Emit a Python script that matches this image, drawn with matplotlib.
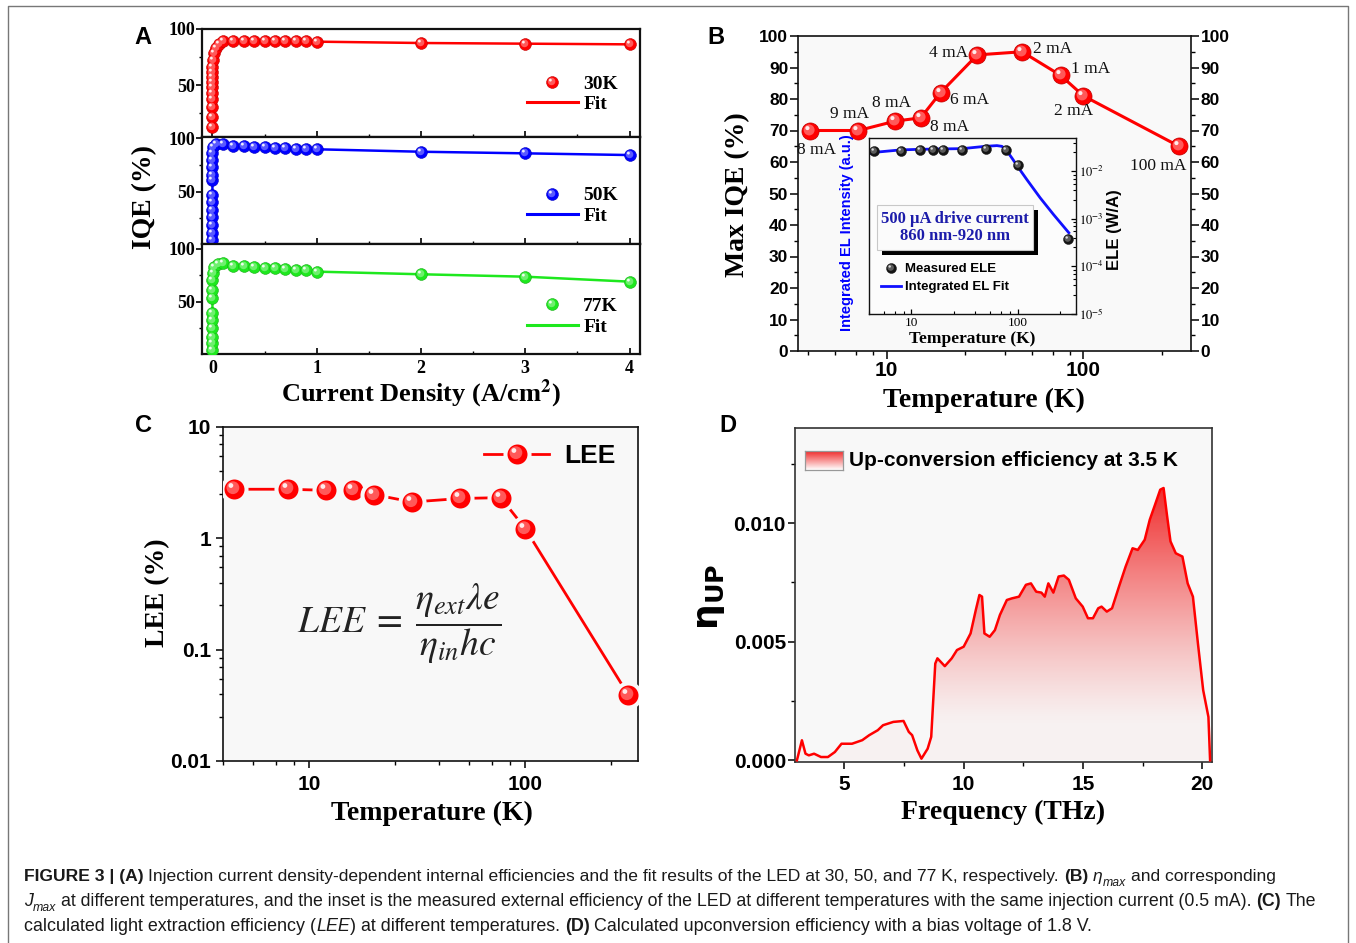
import numpy as np
import matplotlib
matplotlib.use('Agg')
import matplotlib.pyplot as plt
import matplotlib.colors as mcolors
import matplotlib.transforms as mtransforms
from matplotlib.path import Path
from matplotlib.markers import MarkerStyle
from matplotlib.lines import Line2D
from matplotlib.patches import Rectangle
from matplotlib.legend_handler import HandlerTuple
from matplotlib.ticker import FixedLocator, LogLocator, NullFormatter, MultipleLocator

# ---------------- data ----------------
# Panel A : IQE vs current density
a30_j = [0, 0, 0, 0, 0, 0, 0, 0, 0, 0, 0.005, 0.015, 0.03, 0.06, 0.1, 0.2, 0.3, 0.4, 0.5, 0.6, 0.7, 0.8, 0.9, 1.0, 2, 3, 4]
a30_iqe = [12.8, 21.7, 30.0, 37.2, 42.6, 48.5, 53.0, 57.4, 61.9, 66.3, 72.3, 78.3, 82.8, 86.6, 88.9, 89.3, 89.4, 89.4,
           89.3, 89.2, 89.1, 89.0, 88.9, 88.7, 87.5, 86.9, 86.3]
a50_j = [0, 0, 0, 0, 0, 0, 0, 0, 0, 0, 0, 0, 0.005, 0.03, 0.1, 0.2, 0.3, 0.4, 0.5, 0.6, 0.7, 0.8, 0.9, 1.0, 2, 3, 4]
a50_iqe = [4.6, 10.9, 18.7, 26.5, 32.7, 40.5, 46.8, 60.9, 65.6, 73.4, 79.6, 85.9, 92.1, 94.2, 94.5, 92.8, 92.5, 91.8,
           91.4, 91.1, 90.7, 90.4, 90.1, 89.7, 87.4, 85.9, 84.3]
a77_j = [0, 0, 0, 0, 0, 0, 0, 0, 0, 0.005, 0.015, 0.05, 0.1, 0.2, 0.3, 0.4, 0.5, 0.6, 0.7, 0.8, 0.9, 1.0, 2, 3, 4]
a77_iqe = [4.2, 10.5, 16.8, 24.8, 32.6, 39.0, 53.2, 61.1, 70.6, 76.9, 83.2, 86.0, 86.4, 84.2, 83.6, 82.9, 82.3, 81.7,
           81.0, 80.4, 80.0, 78.5, 76.0, 73.7, 69.0]

# Panel B : max IQE vs temperature
b_temp = [4.08, 7.2, 11.1, 14.9, 18.8, 28.9, 48.8, 76.6, 100, 306]
b_iqe = [70, 70, 73, 74, 82, 94, 95, 87.5, 81, 65]
b_labels = ['8 mA', '9 mA', '8 mA', '8 mA', '6 mA', '4 mA', '2 mA', '1 mA', '2 mA', '100 mA']

# Panel B inset : ELE vs temperature
ins_temp = [4.5, 8, 12, 16, 20, 30, 50, 77, 100, 300]
ins_ele = [0.0272, 0.0272, 0.0285, 0.0285, 0.0285, 0.0285, 0.0299, 0.0285, 0.0138, 0.00037]
ins_fit_temp = [4.06, 4.52, 7.9, 11.9, 20.1, 30.3, 49.5, 63.8, 71.1, 77.5, 88.2, 102, 122, 163, 217, 303]
ins_fit_val = [0.0235, 0.025, 0.0281, 0.0289, 0.0295, 0.0299, 0.0334, 0.0346, 0.0334, 0.0285, 0.0191, 0.0118,
               0.0067, 0.00276, 0.00124, 0.00051]

# Panel C : LEE vs temperature
c_temp = [4.5, 8, 12, 16, 20, 30, 50, 77, 100, 300]
c_lee = [2.76, 2.76, 2.70, 2.74, 2.47, 2.12, 2.28, 2.32, 1.22, 0.039]

# Panel D : up-conversion efficiency spectrum
d_freq = [3.01, 3.22, 3.37, 3.51, 3.73, 4.02, 4.31, 4.60, 4.88, 5.32, 5.75, 6.04, 6.40, 6.62, 7.05, 7.48, 7.70, 7.84,
          8.06, 8.23, 8.49, 8.64, 8.81, 8.90, 9.21, 9.50, 9.72, 10.0, 10.29, 10.51, 10.66, 10.77, 10.87, 11.09, 11.31,
          11.52, 11.81, 12.03, 12.32, 12.61, 12.82, 13.04, 13.26, 13.40, 13.55, 13.76, 13.98, 14.20, 14.41, 14.70,
          14.99, 15.21, 15.42, 15.64, 15.78, 16.0, 16.22, 16.51, 16.79, 17.08, 17.30, 17.59, 17.80, 18.02, 18.24,
          18.38, 18.53, 18.67, 18.89, 19.17, 19.39, 19.61, 19.82, 20.04, 20.26, 20.33]
d_eta = [0.0, 0.000845, 0.00028, 0.00021, 0.00028, 0.00014, 0.00014, 0.00035, 0.0007, 0.0007, 0.00085, 0.00106,
         0.00127, 0.00148, 0.00162, 0.00166, 0.0012, 0.00106, 0.00042, 0.00007, 0.00049, 0.00099, 0.00408, 0.0043,
         0.00397, 0.0043, 0.00465, 0.00479, 0.00535, 0.00634, 0.00697, 0.0069, 0.00535, 0.00521, 0.00549, 0.00613,
         0.00676, 0.00683, 0.0069, 0.0074, 0.00746, 0.00711, 0.00707, 0.0069, 0.00746, 0.00707, 0.00775, 0.00779,
         0.00761, 0.00683, 0.00648, 0.00599, 0.00599, 0.00641, 0.00648, 0.00627, 0.00641, 0.00732, 0.00817, 0.00894,
         0.00887, 0.0093, 0.01014, 0.01077, 0.01141, 0.01148, 0.01028, 0.00923, 0.00873, 0.00859, 0.00746, 0.0069,
         0.00493, 0.00296, 0.00183, 0.0]

# Caption
cap_line1 = [('FIGURE 3 | (A)', 'bold', 'normal', False, False),
             ('Injection current density-dependent internal efficiencies and the fit results of the LED at 30, 50, '
              'and 77 K, respectively.', 'normal', 'normal', False, True),
             ('(B)', 'bold', 'normal', False, True),
             ('η', 'normal', 'italic', False, True),
             ('max', 'normal', 'italic', True, False),
             ('and corresponding', 'normal', 'normal', False, True)]
cap_line2 = [('J', 'normal', 'italic', False, False),
             ('max', 'normal', 'italic', True, False),
             ('at different temperatures, and the inset is the measured external efficiency of the LED at different '
              'temperatures with the same injection current (0.5 mA).', 'normal', 'normal', False, True),
             ('(C)', 'bold', 'normal', False, True),
             ('The', 'normal', 'normal', False, True)]
cap_line3 = [('calculated light extraction efficiency (', 'normal', 'normal', False, False),
             ('LEE', 'normal', 'italic', False, False),
             (') at different temperatures.', 'normal', 'normal', False, False),
             ('(D)', 'bold', 'normal', False, True),
             ('Calculated upconversion efficiency with a bias voltage of 1.8 V.', 'normal', 'normal', False, True)]

# ---------------- figure ----------------
W, H = 1356, 943
SERIF = ['Liberation Serif', 'DejaVu Serif']
SANS = ['Liberation Sans', 'DejaVu Sans']
BG = '#f8f8f8'

fig = plt.figure(figsize=(W / 100, H / 100), dpi=100)
fig.patch.set_facecolor('white')
renderer = fig.canvas.get_renderer()


def add_ax(l, t, r, b, **kw):
    return fig.add_axes([l / W, 1 - b / H, (r - l) / W, (b - t) / H], **kw)


def ftext(px, py, s, **kw):
    return fig.text(px / W, 1 - py / H, s, **kw)


def circ_marker(cx, cy, r):
    box = Path([[-1, -1], [1, 1]], [Path.MOVETO, Path.MOVETO])
    return MarkerStyle(Path.make_compound_path(box, Path.circle((cx, cy), r)))


HL1 = circ_marker(-0.16, 0.18, 0.64)
HL2 = circ_marker(-0.36, 0.40, 0.24)


def lighten(c, f):
    c = np.array(mcolors.to_rgb(c))
    return tuple(c + (1 - c) * f)


def darken(c, f):
    c = np.array(mcolors.to_rgb(c))
    return tuple(c * (1 - f))


def sphere(ax, x, y, color, ms, mec=None, mew=0.6, hl_ms=None, z=3, l1=0.35, l2=0.92):
    hl_ms = hl_ms or ms
    h0, = ax.plot(x, y, ls='none', marker='o', ms=ms, mfc=color,
                  mec=mec if mec is not None else darken(color, 0.25), mew=mew, zorder=z)
    h1, = ax.plot(x, y, ls='none', marker=HL1, ms=hl_ms, mfc=lighten(color, l1), mec='none', mew=0, zorder=z + 0.1)
    h2, = ax.plot(x, y, ls='none', marker=HL2, ms=hl_ms, mfc=lighten(color, l2), mec='none', mew=0, zorder=z + 0.2)
    return (h0, h1, h2)


def style_spines(ax, lw=1.2, color='#111111'):
    for s in ax.spines.values():
        s.set_linewidth(lw)
        s.set_color(color)


def set_ticklabel_font(ax, which, family, size, weight='bold'):
    labs = ax.get_xticklabels() if which == 'x' else ax.get_yticklabels()
    for lb in labs:
        lb.set_family(family)
        lb.set_fontsize(size)
        lb.set_fontweight(weight)


HT = {tuple: HandlerTuple(ndivide=1, pad=0.0)}

# ---------------- Panel A ----------------
a_rows = [(29, 137), (137, 244), (244, 354)]
a_ylims = [(3.6, 100), (1.0, 101.2), (0.4, 104.7)]
a_sets = [(a30_j, a30_iqe, '#ff0000', '30K'), (a50_j, a50_iqe, '#0000ff', '50K'), (a77_j, a77_iqe, '#1ee81e', '77K')]
a_leg_top = [0.574, 0.535, 0.512]
for i, ((t, b), yl, (xs, ys, col, lab)) in enumerate(zip(a_rows, a_ylims, a_sets)):
    ax = add_ax(202, t, 640, b)
    ax.plot(xs, ys, color=col, lw=1.8, zorder=2)
    sp = sphere(ax, xs, ys, col, ms=8.5, mew=0.4)
    ax.set_xlim(-0.1, 4.1)
    ax.set_ylim(*yl)
    ax.set_yticks([50, 100])
    ax.yaxis.set_minor_locator(FixedLocator([25, 75]))
    ax.set_xticks([0, 1, 2, 3, 4])
    ax.xaxis.set_minor_locator(MultipleLocator(0.5))
    ax.tick_params(axis='y', which='both', direction='out', left=True, right=False, pad=1)
    ax.tick_params(axis='y', which='major', length=4, width=1.2)
    ax.tick_params(axis='y', which='minor', length=2.5, width=1.0)
    ax.tick_params(axis='x', which='both', direction='in', bottom=True, top=False, labelbottom=(i == 2), pad=4)
    ax.tick_params(axis='x', which='major', length=4, width=1.2)
    ax.tick_params(axis='x', which='minor', length=2.5, width=1.0)
    set_ticklabel_font(ax, 'x', SERIF, 13)
    set_ticklabel_font(ax, 'y', SERIF, 13)
    style_spines(ax, lw=1.6)
    fit_h = Line2D([], [], color=col, lw=2.2)
    ax.legend([sp, fit_h], [lab, 'Fit'], handler_map=HT, loc='upper right', bbox_to_anchor=(0.95, a_leg_top[i]),
              frameon=False, prop={'family': SERIF, 'weight': 'bold', 'size': 14}, handlelength=2.6,
              handletextpad=0.3, labelspacing=0.15, borderpad=0, borderaxespad=0)

ftext(145, 197, 'IQE (%)', rotation=90, ha='center', va='center', family=SERIF, fontweight='bold', fontsize=20)
ftext(421, 394, 'Current Density (A/cm$^\\mathbf{2}$)', ha='center', va='center', family=SERIF, fontweight='bold',
      fontsize=19, math_fontfamily='stix')

# ---------------- Panel B ----------------
axB = add_ax(798, 36, 1191, 351)
axB.set_facecolor('#f9f9f9')
axB.set_xscale('log')
axB.plot(b_temp, b_iqe, color='#ff0000', lw=2.2, zorder=2)
sphere(axB, b_temp, b_iqe, '#ff0000', ms=12.3, mew=0.5)
b_offsets = [(7, -19), (-9, 16), (-4, 18), (29, -9), (29, -7), (-29, 2), (30, 3), (30, 6), (-10, -15), (-21, -20)]
for xt, yt, lb, (dx, dy) in zip(b_temp, b_iqe, b_labels, b_offsets):
    axB.annotate(lb, (xt, yt), xytext=(dx, dy), textcoords='offset pixels', ha='center', va='center',
                 family=SERIF, fontsize=12.5, color='#111111', zorder=5)
axB.set_xlim(3.55, 352)
axB.set_ylim(0, 100)
axB.set_yticks(np.arange(0, 101, 10))
axB.yaxis.set_minor_locator(MultipleLocator(5))
axB.set_xticks([10, 100], ['10', '100'])
axB.xaxis.set_minor_locator(LogLocator(base=10, subs=[2.5, 4, 5.5, 7, 8.5]))
axB.xaxis.set_minor_formatter(NullFormatter())
axB.tick_params(axis='y', which='both', direction='out', left=True, right=True, labelleft=True, labelright=True, pad=1.5)
axB.tick_params(axis='x', which='both', direction='out', bottom=True, top=False, pad=2)
axB.tick_params(which='major', length=5.5, width=1.1)
axB.tick_params(which='minor', length=3, width=1.0)
set_ticklabel_font(axB, 'y', SANS, 12.5)
set_ticklabel_font(axB, 'x', SANS, 15)
style_spines(axB)
ftext(738, 195, 'Max IQE (%)', rotation=90, ha='center', va='center', family=SERIF, fontweight='bold', fontsize=20)
ftext(984, 400, 'Temperature (K)', ha='center', va='center', family=SERIF, fontweight='bold', fontsize=20)

# Inset
axI = add_ax(869, 138, 1076, 314)
axI.set_facecolor('#fcfcfc')
axI.set_xscale('log')
axI.set_yscale('log')
axI.plot(ins_fit_temp, ins_fit_val, color='#1010ff', lw=2.0, zorder=2)
sp_i = sphere(axI, ins_temp, ins_ele, '#151515', ms=7.2, mew=0.3, l1=0.3, l2=0.85)
axI.set_xlim(4.0, 354)
axI.set_ylim(1e-5, 0.05)
axI.yaxis.tick_right()
axI.set_xticks([10, 100], ['10', '100'])
axI.xaxis.set_minor_locator(LogLocator(base=10, subs=[2.5, 4, 5.5, 7, 8.5]))
axI.xaxis.set_minor_formatter(NullFormatter())
axI.set_yticks([1e-5, 1e-4, 1e-3, 1e-2], [r'$10^{-5}$', r'$10^{-4}$', r'$10^{-3}$', r'$10^{-2}$'])
axI.yaxis.set_minor_locator(LogLocator(base=10, subs=[2.5, 4, 5.5, 7, 8.5]))
axI.yaxis.set_minor_formatter(NullFormatter())
axI.tick_params(axis='x', which='both', direction='in', bottom=True, top=False, pad=2)
axI.tick_params(axis='y', which='both', direction='in', left=False, right=True, pad=2)
axI.tick_params(which='major', length=3.5, width=0.9)
axI.tick_params(which='minor', length=2, width=0.8)
for lb in axI.get_xticklabels():
    lb.set_family(SERIF)
    lb.set_fontsize(9.5)
for lb in axI.get_yticklabels():
    lb.set_fontsize(9)
    lb.set_math_fontfamily('stix')
style_spines(axI, lw=1.0)
fit_i = Line2D([], [], color='#1010ff', lw=2.0)
axI.legend([sp_i, fit_i], ['Measured ELE', 'Integrated EL Fit'], handler_map=HT, loc='upper left',
           bbox_to_anchor=(0.058, 0.29), frameon=False, prop={'family': SANS, 'weight': 'bold', 'size': 9.5},
           handlelength=1.5, handletextpad=0.3, labelspacing=0.45, borderpad=0, borderaxespad=0)
# text box with drop shadow
bx0, bx1, by0, by1 = 0.037, 0.794, 0.364, 0.619
sdx, sdy = 5 / 207, 5 / 176
axI.add_patch(Rectangle((bx0 + sdx, by0 - sdy), bx1 - bx0, by1 - by0, transform=axI.transAxes,
                        fc='black', ec='none', zorder=5))
axI.add_patch(Rectangle((bx0, by0), bx1 - bx0, by1 - by0, transform=axI.transAxes,
                        fc='#fbfbfb', ec='#c8c8c8', lw=0.8, zorder=6))
axI.text((bx0 + bx1) / 2, (by0 + by1) / 2, '500 µA drive current\n860 nm-920 nm', transform=axI.transAxes,
         ha='center', va='center', multialignment='center', family=SERIF, fontweight='bold', fontsize=12,
         color='#1c1caa', zorder=7, linespacing=1.1)
ftext(847, 233, 'Integrated EL Intensity (a.u.)', rotation=90, ha='center', va='center', family=SANS,
      fontweight='bold', fontsize=10.5, color='#0000ff')
ftext(1115, 230, 'ELE (W/A)', rotation=90, ha='center', va='center', family=SANS, fontweight='bold', fontsize=12)
ftext(972, 339, 'Temperature (K)', ha='center', va='center', family=SERIF, fontweight='bold', fontsize=12.5)

# ---------------- Panel C ----------------
axC = add_ax(223, 427, 638, 761)
axC.set_facecolor(BG)
axC.set_xscale('log')
axC.set_yscale('log')
axC.plot(c_temp, c_lee, color='#ff0000', lw=2.0, zorder=2)
sp_c = sphere(axC, c_temp, c_lee, '#ff0000', ms=17.3, mec=BG, mew=2.9, hl_ms=14.4)
axC.set_xlim(4.0, 332)
axC.set_ylim(0.01, 10)
axC.set_xticks([10, 100], ['10', '100'])
axC.set_yticks([0.01, 0.1, 1, 10], ['0.01', '0.1', '1', '10'])
for a in (axC.xaxis, axC.yaxis):
    a.set_minor_locator(LogLocator(base=10, subs=[2.5, 4, 5.5, 7, 8.5]))
    a.set_minor_formatter(NullFormatter())
axC.tick_params(which='both', direction='out', top=False, right=False)
axC.tick_params(which='major', length=5, width=1.1)
axC.tick_params(which='minor', length=3, width=1.0)
axC.tick_params(axis='x', pad=5)
set_ticklabel_font(axC, 'x', SANS, 15)
set_ticklabel_font(axC, 'y', SANS, 15)
style_spines(axC)
line_c = Line2D([], [], color='#ff0000', lw=2.0)
axC.legend([(line_c,) + sp_c], ['LEE'], handler_map=HT, loc='upper right', bbox_to_anchor=(0.945, 0.949),
           frameon=False, prop={'family': SANS, 'weight': 'bold', 'size': 19}, handlelength=2.46,
           handletextpad=0.55, borderpad=0, borderaxespad=0)
axC.text(0.425, 0.41, r'$LEE\;=\;\dfrac{\eta_{ext}\lambda e}{\eta_{in}hc}$', transform=axC.transAxes,
         ha='center', va='center', fontsize=27, math_fontfamily='stix', color='#222222')
ftext(158, 593, 'LEE (%)', rotation=90, ha='center', va='center', family=SERIF, fontweight='bold', fontsize=20)
ftext(432, 813, 'Temperature (K)', ha='center', va='center', family=SERIF, fontweight='bold', fontsize=20)

# ---------------- Panel D ----------------
axD = add_ax(795, 428, 1212, 762)
axD.set_facecolor(BG)
fx = np.array(d_freq)
fy = np.array(d_eta)
axD.plot(fx, fy, color='#ff0000', lw=1.8, zorder=4)
fill = axD.fill_between(fx, fy, 0, facecolor='none', edgecolor='none')
ny = 400
gy = np.linspace(0, fy.max(), ny)
alpha = 0.03 + 0.87 * np.clip((gy - 0.0015) / (fy.max() - 0.0015), 0, 1) ** 1.25
rgba = np.zeros((ny, 2, 4))
rgba[..., 0] = 0.94
rgba[..., 1] = 0.08
rgba[..., 2] = 0.08
rgba[..., 3] = alpha[:, None]
im = axD.imshow(rgba, extent=[fx.min(), fx.max(), 0, fy.max()], origin='lower', aspect='auto', zorder=3,
                interpolation='bilinear')
im.set_clip_path(fill.get_paths()[0], transform=axD.transData)
axD.set_xlim(2.93, 20.41)
axD.set_ylim(-0.00007, 0.01401)
axD.set_xticks([5, 10, 15, 20])
axD.xaxis.set_minor_locator(MultipleLocator(2.5))
axD.set_yticks([0.0, 0.005, 0.010], ['0.000', '0.005', '0.010'])
axD.yaxis.set_minor_locator(MultipleLocator(0.0025))
axD.tick_params(which='both', direction='out', top=False, right=False)
axD.tick_params(which='major', length=5, width=1.1)
axD.tick_params(which='minor', length=3, width=1.0)
axD.tick_params(axis='y', pad=1.5)
axD.tick_params(axis='x', pad=4)
set_ticklabel_font(axD, 'x', SANS, 15)
set_ticklabel_font(axD, 'y', SANS, 15)
style_spines(axD, color='#333333')
# legend patch with gradient
lg = axD.inset_axes([0.025, 0.875, 0.091, 0.055])
grad = np.zeros((50, 2, 4))
grad[..., 0] = 0.94
grad[..., 1] = 0.08
grad[..., 2] = 0.08
grad[..., 3] = np.linspace(0.0, 0.9, 50)[:, None]
lg.imshow(grad, origin='lower', aspect='auto', extent=[0, 1, 0, 1], interpolation='bilinear')
lg.set_xticks([])
lg.set_yticks([])
for s in lg.spines.values():
    s.set_color('#999999')
    s.set_linewidth(0.9)
axD.text(0.13, 0.9025, 'Up-conversion efficiency at 3.5 K', transform=axD.transAxes, ha='left', va='center',
         family=SANS, fontweight='bold', fontsize=15)
ftext(1003, 812, 'Frequency (THz)', ha='center', va='center', family=SERIF, fontweight='bold', fontsize=20)
ftext(710, 597, r'$\mathbf{\eta}_{\mathbf{UP}}$', rotation=90, ha='center', va='center', fontsize=26,
      math_fontfamily='dejavusans')

# ---------------- panel letters ----------------
for lt, (px, py) in zip('ABCD', [(143, 37), (716, 38), (143.5, 426), (728, 426)]):
    ftext(px, py, lt, ha='center', va='center', family=SANS, fontweight='bold', fontsize=17)


# ---------------- caption ----------------
def caption_line(segs, x0, ybase, x_target, size0):
    def build(size):
        probe = fig.text(0, 0, 'x x', fontsize=size, family=SANS)
        w1 = probe.get_window_extent(renderer).width
        probe.set_text('xx')
        w2 = probe.get_window_extent(renderer).width
        probe.remove()
        spw = w1 - w2
        x = x0
        arts = []
        for txt, wt, st, sub, spb in segs:
            if spb:
                x += spw
            fs = size * 0.7 if sub else size
            yb = ybase + (size * 0.4 if sub else 0)
            t = ftext(x, yb, txt, fontsize=fs, fontweight=wt, fontstyle=st, family=SANS, color='#1a1a1a',
                      ha='left', va='baseline')
            x += t.get_window_extent(renderer).width
            arts.append(t)
        return x, arts

    xe, arts = build(size0)
    for a in arts:
        a.remove()
    size = size0 * (x_target - x0) / (xe - x0)
    build(size)


caption_line(cap_line1, 24, 881, 1280, 11.5)
caption_line(cap_line2, 24, 906, 1322, 11.5)
caption_line(cap_line3, 24, 931, 1098, 11.5)

# ---------------- outer frame ----------------
frame = Line2D([8 / W, 8 / W, 1348 / W, 1348 / W], [0, 1 - 6 / H, 1 - 6 / H, 0], transform=fig.transFigure,
               color='#777777', lw=1.0)
fig.add_artist(frame)

fig.savefig('out.png', dpi=100, facecolor='white')
